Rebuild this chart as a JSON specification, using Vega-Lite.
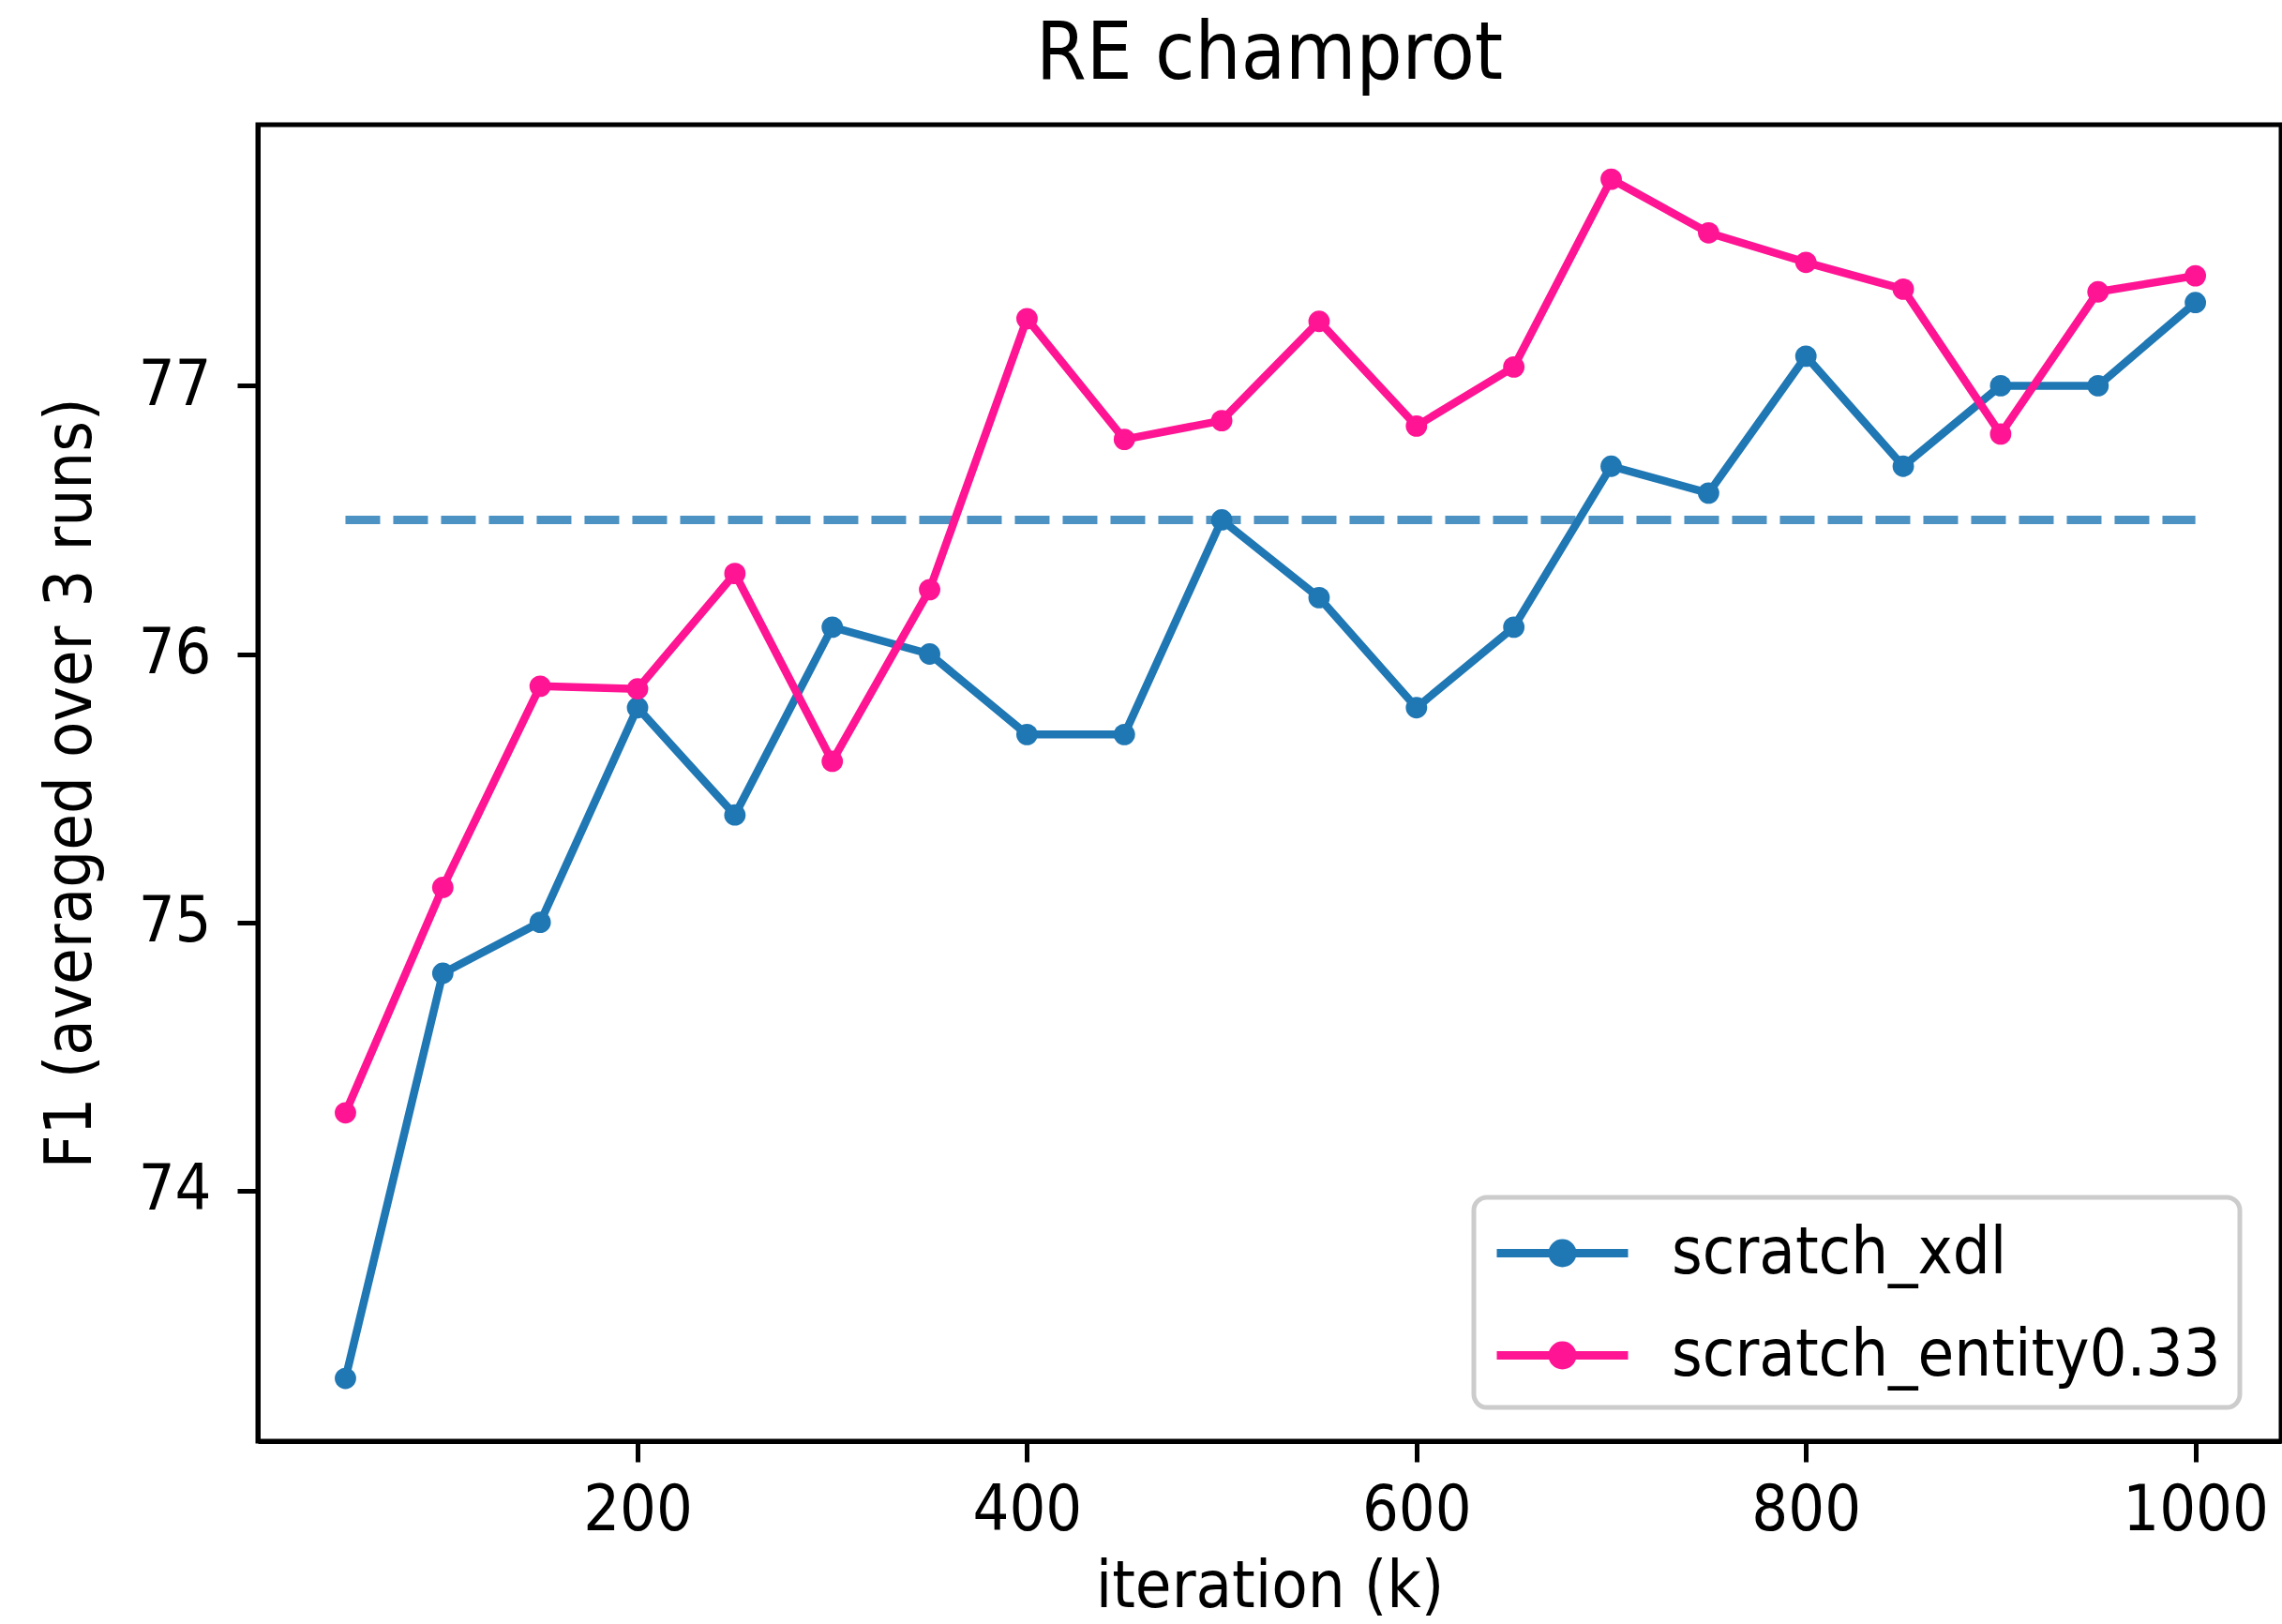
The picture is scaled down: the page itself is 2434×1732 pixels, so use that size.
{
  "$schema": "https://vega.github.io/schema/vega-lite/v6.json",
  "autosize": {"type": "none"},
  "width": 2158,
  "height": 1404,
  "padding": {"left": 275, "top": 133, "right": 1, "bottom": 195},
  "background": "white",
  "title": {
    "text": "RE champrot",
    "font": "DejaVu Sans Condensed",
    "fontSize": 86,
    "fontWeight": "normal",
    "color": "black",
    "anchor": "middle",
    "baseline": "alphabetic",
    "offset": 43,
    "dy": 80
  },
  "datasets": {
    "series": [
      {"iter": 50, "f1": 73.30, "run": "scratch_xdl"},
      {"iter": 100, "f1": 74.81, "run": "scratch_xdl"},
      {"iter": 150, "f1": 75.00, "run": "scratch_xdl"},
      {"iter": 200, "f1": 75.80, "run": "scratch_xdl"},
      {"iter": 250, "f1": 75.40, "run": "scratch_xdl"},
      {"iter": 300, "f1": 76.10, "run": "scratch_xdl"},
      {"iter": 350, "f1": 76.00, "run": "scratch_xdl"},
      {"iter": 400, "f1": 75.70, "run": "scratch_xdl"},
      {"iter": 450, "f1": 75.70, "run": "scratch_xdl"},
      {"iter": 500, "f1": 76.50, "run": "scratch_xdl"},
      {"iter": 550, "f1": 76.21, "run": "scratch_xdl"},
      {"iter": 600, "f1": 75.80, "run": "scratch_xdl"},
      {"iter": 650, "f1": 76.10, "run": "scratch_xdl"},
      {"iter": 700, "f1": 76.70, "run": "scratch_xdl"},
      {"iter": 750, "f1": 76.60, "run": "scratch_xdl"},
      {"iter": 800, "f1": 77.11, "run": "scratch_xdl"},
      {"iter": 850, "f1": 76.70, "run": "scratch_xdl"},
      {"iter": 900, "f1": 77.00, "run": "scratch_xdl"},
      {"iter": 950, "f1": 77.00, "run": "scratch_xdl"},
      {"iter": 1000, "f1": 77.31, "run": "scratch_xdl"},
      {"iter": 50, "f1": 74.29, "run": "scratch_entity0.33"},
      {"iter": 100, "f1": 75.13, "run": "scratch_entity0.33"},
      {"iter": 150, "f1": 75.88, "run": "scratch_entity0.33"},
      {"iter": 200, "f1": 75.87, "run": "scratch_entity0.33"},
      {"iter": 250, "f1": 76.30, "run": "scratch_entity0.33"},
      {"iter": 300, "f1": 75.60, "run": "scratch_entity0.33"},
      {"iter": 350, "f1": 76.24, "run": "scratch_entity0.33"},
      {"iter": 400, "f1": 77.25, "run": "scratch_entity0.33"},
      {"iter": 450, "f1": 76.80, "run": "scratch_entity0.33"},
      {"iter": 500, "f1": 76.87, "run": "scratch_entity0.33"},
      {"iter": 550, "f1": 77.24, "run": "scratch_entity0.33"},
      {"iter": 600, "f1": 76.85, "run": "scratch_entity0.33"},
      {"iter": 650, "f1": 77.07, "run": "scratch_entity0.33"},
      {"iter": 700, "f1": 77.77, "run": "scratch_entity0.33"},
      {"iter": 750, "f1": 77.57, "run": "scratch_entity0.33"},
      {"iter": 800, "f1": 77.46, "run": "scratch_entity0.33"},
      {"iter": 850, "f1": 77.36, "run": "scratch_entity0.33"},
      {"iter": 900, "f1": 76.82, "run": "scratch_entity0.33"},
      {"iter": 950, "f1": 77.35, "run": "scratch_entity0.33"},
      {"iter": 1000, "f1": 77.41, "run": "scratch_entity0.33"}
    ],
    "baseline": [
      {"iter": 50, "f1": 76.5},
      {"iter": 1000, "f1": 76.5}
    ]
  },
  "encoding": {
    "x": {
      "field": "iter",
      "type": "quantitative",
      "scale": {"domain": [5, 1044], "nice": false, "zero": false},
      "axis": {
        "title": "iteration (k)",
        "values": [200, 400, 600, 800, 1000],
        "format": "d",
        "labelLimit": 500,
        "labelFlush": false,
        "labelOverlap": false,
        "titleY": 176,
        "titleBaseline": "alphabetic",
        "titleX": 1079
      }
    },
    "y": {
      "field": "f1",
      "type": "quantitative",
      "scale": {"domain": [73.066, 77.973], "nice": false, "zero": false},
      "axis": {
        "title": "F1 (averaged over 3 runs)",
        "values": [74, 75, 76, 77],
        "titleAngle": 270,
        "titleX": -179,
        "titleY": 702,
        "titleAlign": "center",
        "titleBaseline": "alphabetic"
      }
    }
  },
  "layer": [
    {
      "data": {"name": "baseline"},
      "mark": {"type": "line", "color": "#1f77b4", "opacity": 0.8, "strokeWidth": 9, "strokeDash": [37, 14]}
    },
    {
      "data": {"name": "series"},
      "transform": [{"filter": "datum.run === 'scratch_xdl'"}],
      "mark": {"type": "line", "strokeWidth": 8.5, "strokeJoin": "round", "point": {"filled": true, "size": 520, "opacity": 1}},
      "encoding": {
        "color": {"field": "run", "type": "nominal"}
      }
    },
    {
      "data": {"name": "series"},
      "transform": [{"filter": "datum.run === 'scratch_entity0.33'"}],
      "mark": {"type": "line", "strokeWidth": 8.5, "strokeJoin": "round", "point": {"filled": true, "size": 520, "opacity": 1}},
      "encoding": {
        "color": {
          "field": "run",
          "type": "nominal",
          "scale": {"domain": ["scratch_xdl", "scratch_entity0.33"], "range": ["#1f77b4", "#ff1493"]},
          "legend": {
            "title": null,
            "orient": "none",
            "legendX": 1297,
            "legendY": 1144,
            "symbolType": "M-1,0H3M0.7,0A0.3,0.3,0,1,0,1.3,0A0.3,0.3,0,1,0,0.7,0Z",
            "symbolSize": 4900,
            "symbolStrokeWidth": 9,
            "labelFont": "DejaVu Sans Condensed",
            "labelFontSize": 70,
            "labelColor": "black",
            "labelOffset": 112,
            "labelLimit": 1000,
            "rowPadding": 34,
            "padding": 20,
            "strokeColor": "#cccccc",
            "fillColor": "rgba(255,255,255,0.8)",
            "cornerRadius": 14,
            "encode": {
              "symbols": {"update": {"fill": {"scale": "color", "field": "value"}, "fillOpacity": {"value": 1}}}
            }
          }
        }
      }
    }
  ],
  "config": {
    "font": "DejaVu Sans Condensed",
    "view": {"stroke": "black", "strokeWidth": 5},
    "legend": {"strokeWidth": 5},
    "axis": {
      "grid": false,
      "domainColor": "black",
      "domainWidth": 5,
      "tickColor": "black",
      "tickWidth": 5,
      "tickSize": 22,
      "labelFont": "DejaVu Sans Condensed",
      "labelFontSize": 68,
      "labelColor": "black",
      "labelPadding": 18,
      "titleFont": "DejaVu Sans Condensed",
      "titleFontSize": 70,
      "titleFontWeight": "normal",
      "titleColor": "black"
    },
    "axisY": {"labelPadding": 28}
  }
}
